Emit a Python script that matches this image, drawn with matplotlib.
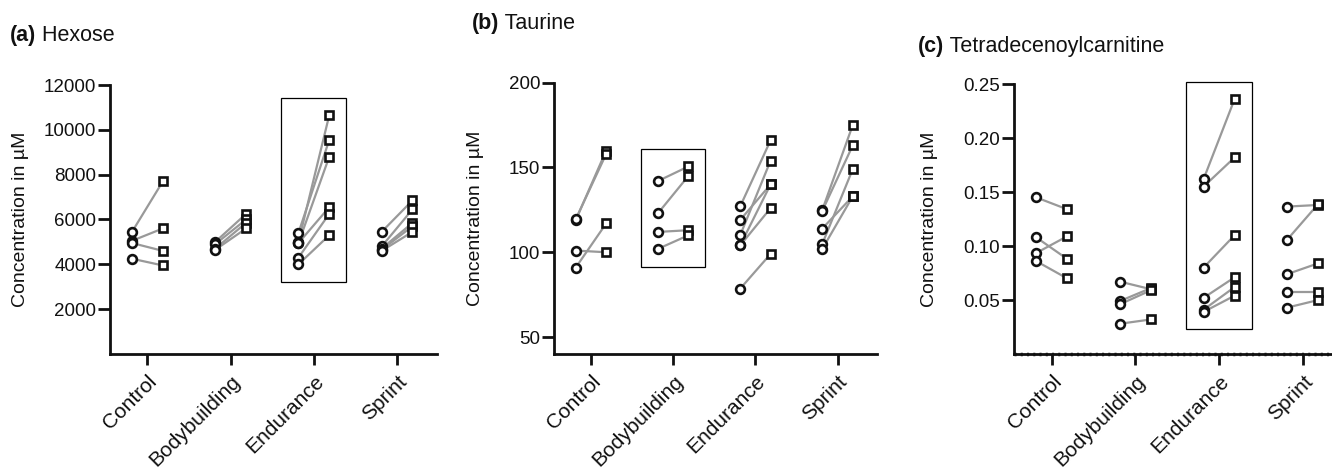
import numpy as np
import matplotlib
matplotlib.use("Agg")
import matplotlib.pyplot as plt
from matplotlib.patches import Rectangle

plt.rcParams['font.family'] = ['Liberation Sans', 'DejaVu Sans']

groups = ['Control', 'Bodybuilding', 'Endurance', 'Sprint']

# paired values per group: before (circles) -> after (squares)
hexose_pre = [[5450, 5050, 4950, 4250],
              [5000, 4900, 4700, 4650],
              [5400, 5000, 4950, 4950, 4300, 4000],
              [5450, 4800, 4700, 4650, 4600]]
hexose_post = [[7700, 5600, 4600, 3950],
               [6250, 6000, 5850, 5600],
               [9550, 10650, 8800, 6550, 6250, 5300],
               [6850, 6450, 5850, 5700, 5450]]

taurine_pre = [[119, 119.5, 101, 91],
               [142, 123, 112, 102],
               [127, 119, 110, 104, 104, 78.5],
               [125, 124.5, 114, 105, 102]]
taurine_post = [[160, 158, 100, 117],
                [150.6, 145, 113, 110],
                [166, 140, 154, 140, 126, 99],
                [175, 163, 133, 149, 133]]

tdc_pre = [[0.145, 0.108, 0.0935, 0.086],
           [0.067, 0.049, 0.046, 0.028],
           [0.162, 0.155, 0.080, 0.052, 0.041, 0.039],
           [0.1365, 0.106, 0.074, 0.057, 0.043]]
tdc_post = [[0.134, 0.088, 0.109, 0.070],
            [0.060, 0.061, 0.059, 0.032],
            [0.236, 0.182, 0.110, 0.071, 0.062, 0.054],
            [0.138, 0.139, 0.084, 0.057, 0.050]]

panels = [
    ('(a)', 'Hexose', hexose_pre, hexose_post, 2, [2000, 4000, 6000, 8000, 10000, 12000], (0, 12000), '{:.0f}'),
    ('(b)', 'Taurine', taurine_pre, taurine_post, 1, [50, 100, 150, 200], (40, 200), '{:.0f}'),
    ('(c)', 'Tetradecenoylcarnitine', tdc_pre, tdc_post, 2, [0.05, 0.10, 0.15, 0.20, 0.25], (0, 0.25), '{:.2f}'),
]

W, H = 1332, 469
fig = plt.figure(figsize=(W / 100, H / 100), dpi=100)

# axes boxes in pixels: left, right, top, bottom
ax_px = [(110, 437, 85, 354), (554, 877, 82.7, 354), (1014, 1343, 84, 354)]
title_px = [(10, 41), (472, 29), (918, 52)]
ylabel_x = [21, 476, 929]

dx = 0.185
line_col = '#999999'

for i, (tag, name, pre, post, hi, yt, ylim, fmt) in enumerate(panels):
    l, r, t, b = ax_px[i]
    ax = fig.add_axes([l / W, (H - b) / H, (r - l) / W, (b - t) / H])
    for g in range(len(groups)):
        for y0, y1 in zip(pre[g], post[g]):
            ax.plot([g - dx, g + dx], [y0, y1], color=line_col, lw=1.6, zorder=2)
        ax.plot([g - dx] * len(pre[g]), pre[g], 'o', ms=6.3, mfc='white', mec='#111111',
                mew=1.9, zorder=3, clip_on=False)
        ax.plot([g + dx] * len(post[g]), post[g], 's', ms=5.8, mfc='white', mec='#111111',
                mew=1.9, zorder=3, clip_on=False)

    # highlight box around one group
    span = ylim[1] - ylim[0]
    lo = min(pre[hi] + post[hi]) - 0.065 * span
    top = max(pre[hi] + post[hi]) + 0.065 * span
    ax.add_patch(Rectangle((hi - 0.39, lo), 0.78, top - lo, fill=False, ec='black',
                           lw=0.9, zorder=1, clip_on=False))

    ax.set_xlim(-0.45, 3.48)
    ax.set_ylim(*ylim)
    ax.set_yticks(yt)
    ax.set_yticklabels([fmt.format(v) for v in yt])
    ax.set_xticks(range(len(groups)))
    ax.set_xticklabels(groups, rotation=45, ha='right', rotation_mode='anchor')
    for s in ['top', 'right']:
        ax.spines[s].set_visible(False)
    for s in ['left', 'bottom']:
        ax.spines[s].set_linewidth(2)
        ax.spines[s].set_color('#111111')
    ax.tick_params(axis='y', length=8.5, width=2, labelsize=13.5, pad=1.5, color='#111111',
                   labelcolor='#111111')
    ax.tick_params(axis='x', length=8, width=2, labelsize=15, pad=5, color='#111111',
                   labelcolor='#111111')
    ax.patch.set_visible(False)

    if i == 2:
        ax.axhline(0, color='#111111', lw=2.5, ls=(0, (0.6, 1.2)), zorder=0, clip_on=False)

    fig.text(ylabel_x[i] / W, (H - (t + b) / 2) / H, 'Concentration in µM', rotation=90,
             ha='center', va='center', fontsize=14, color='#111111')

    tx, ty = title_px[i]
    t1 = fig.text(tx / W, (H - ty) / H, tag, fontsize=15.5, fontweight='bold', ha='left',
                  va='baseline', color='#111111')
    ax.annotate(' ' + name, xy=(1, 0), xycoords=t1, xytext=(0, 0), textcoords='offset points',
                fontsize=15.5, ha='left', va='bottom', color='#111111', annotation_clip=False)

fig.savefig('out.png', dpi=100)
